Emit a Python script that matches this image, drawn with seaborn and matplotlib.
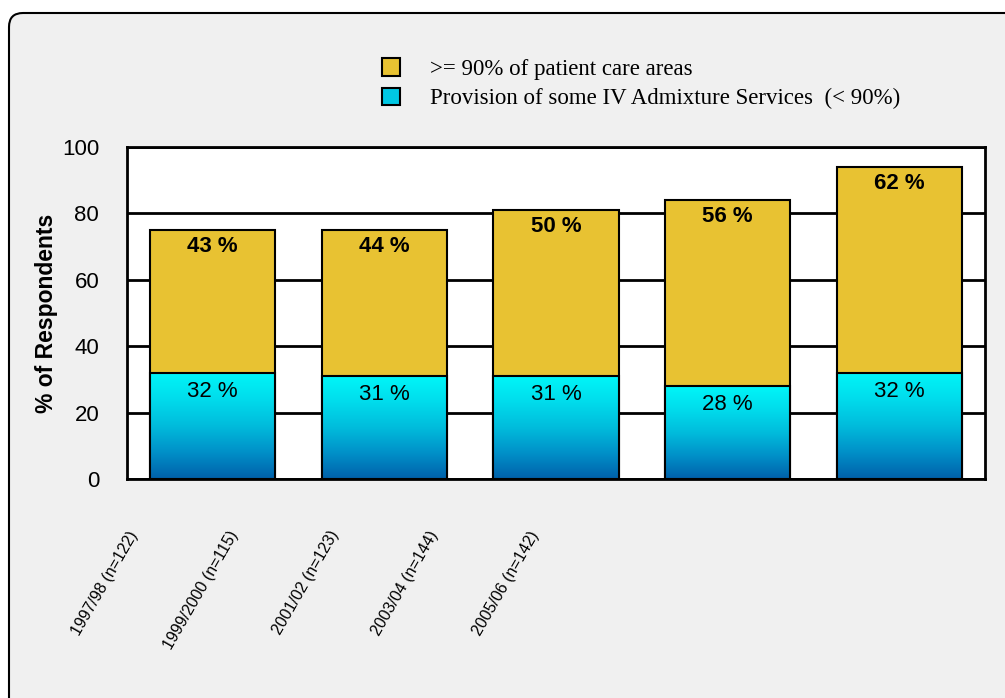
import numpy as np
import pandas as pd
import seaborn as sns
import matplotlib.pyplot as plt
from matplotlib.colors import LinearSegmentedColormap
from matplotlib.patches import FancyBboxPatch, Patch
from matplotlib.transforms import IdentityTransform

# ── Data ─────────────────────────────────────────────────────────────
periods = ["1997/98  (n=122)", "1999/2000 (n=115)", "2001/02 (n=123)",
           "2003/04 (n=144)", "2005/06 (n=142)"]
some_iv = [32, 31, 31, 28, 32]          # < 90%
most_areas = [43, 44, 50, 56, 62]       # >= 90%
legend_labels = [">= 90% of patient care areas",
                 "Provision of some IV Admixture Services  (< 90%)"]

GOLD = "#E8C232"
blue_cmap = LinearSegmentedColormap.from_list(
    "ivblue", ["#0060AA", "#0090C8", "#00BCDC", "#00DCEC", "#00F6F8"])

df = pd.DataFrame({"period": periods, "low": some_iv, "high": most_areas})
df["total"] = df["low"] + df["high"]

sns.set_style("white")
plt.rcParams["font.family"] = ["Liberation Sans", "DejaVu Sans"]
plt.rcParams.update({"text.color": "black", "axes.labelcolor": "black",
                     "xtick.color": "black", "ytick.color": "black"})

fig = plt.figure(figsize=(10.05, 6.98), dpi=100, facecolor="white")

# grey rounded panel behind everything
panel = FancyBboxPatch((9, -30), 1100, 715, boxstyle="round,pad=0,rounding_size=14",
                       transform=IdentityTransform(), facecolor="#F0F0F0",
                       edgecolor="black", linewidth=1.5, zorder=-5)
fig.patches.append(panel)

ax = fig.add_axes([127 / 1005, 1 - 479 / 698, 858 / 1005, 332 / 698], zorder=2)
ax.set_facecolor("white")

sns.barplot(data=df, x="period", y="total", color=GOLD, saturation=1, width=0.73,
            edgecolor="black", linewidth=1.5, ax=ax, zorder=3)
sns.barplot(data=df, x="period", y="low", color="#00C0E0", saturation=1, width=0.73,
            edgecolor="black", linewidth=1.5, ax=ax, zorder=3)

# gradient fill for the lower segments
grad = np.linspace(0, 1, 256).reshape(-1, 1)
for bar in ax.containers[1]:
    x0, y0 = bar.get_x(), bar.get_y()
    w, h = bar.get_width(), bar.get_height()
    im = ax.imshow(grad, cmap=blue_cmap, origin="lower", aspect="auto",
                   extent=[x0, x0 + w, y0, y0 + h], zorder=3.5)
    im.set_clip_path(bar)
    bar.set_facecolor("none")
    bar.set_zorder(4)

# value labels
for i, row in df.iterrows():
    ax.text(i, row["total"] - 5.0, f"{row['high']} %", ha="center", va="center",
            fontsize=16, fontweight="bold", zorder=5)
    ax.text(i, row["low"] - 5.5, f"{row['low']} %", ha="center", va="center",
            fontsize=16, zorder=5)

ax.set_xlim(-0.5, 4.5)
ax.set_ylim(0, 100)
ax.set_yticks([0, 20, 40, 60, 80, 100])
ax.yaxis.grid(True, color="black", linewidth=2, zorder=1)
ax.set_axisbelow(True)
ax.tick_params(axis="y", length=0, pad=20, labelsize=16)
ax.tick_params(axis="x", length=0)
ax.set_xticks(range(len(periods)))
ax.set_xticklabels([])
ax.set_xlabel("")
ax.set_ylabel("% of Respondents", fontsize=16.5, fontweight="bold", labelpad=3)
for s in ax.spines.values():
    s.set_visible(True)
    s.set_color("black")
    s.set_linewidth(2)

# slanted category labels (sit left of their bars, as in the source)
for i, lab in enumerate(periods):
    ax.text(0.0165 + i * 0.1166, -0.148, lab.replace("  ", " "), transform=ax.transAxes,
            rotation=60, ha="right", va="top", fontsize=11.5)

handles = [Patch(facecolor=GOLD, edgecolor="black", linewidth=1.5),
           Patch(facecolor="#00C8E4", edgecolor="black", linewidth=1.5)]
fig.legend(handles, legend_labels, loc="upper left",
           bbox_to_anchor=(382 / 1005, 1 - 58 / 698), frameon=False,
           prop={"family": "Liberation Serif", "size": 16.5},
           handlelength=0.8, handleheight=0.8, handletextpad=1.3,
           labelspacing=0.35, borderpad=0, borderaxespad=0)

fig.savefig("out.png", dpi=100, facecolor=fig.get_facecolor())
